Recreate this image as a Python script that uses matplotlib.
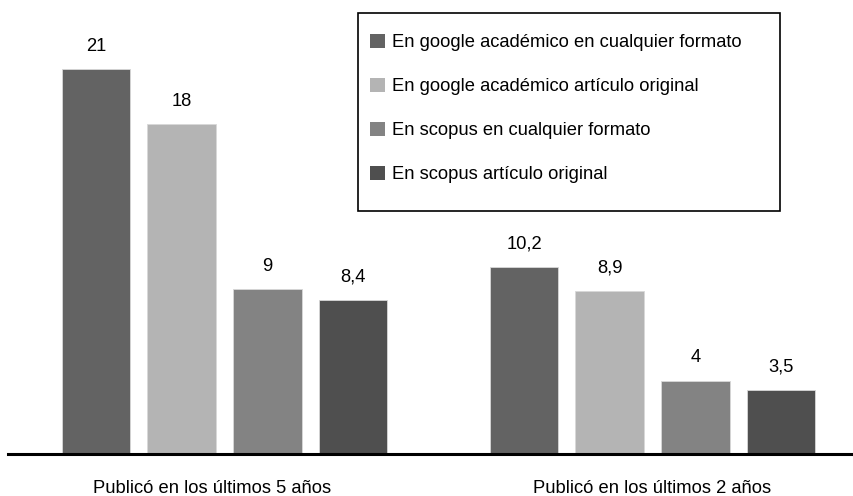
import matplotlib
matplotlib.use("Agg")
import matplotlib.pyplot as plt
import matplotlib.transforms as mtransforms
from matplotlib.patches import Rectangle, Patch
import numpy as np

plt.rcParams['font.family'] = ['Liberation Sans', 'DejaVu Sans']

categories = ["Publicó en los últimos 5 años", "Publicó en los últimos 2 años"]
series_names = [
    "En google académico en cualquier formato",
    "En google académico artículo original",
    "En scopus en cualquier formato",
    "En scopus artículo original",
]
values = [
    [21, 10.2],
    [18, 8.9],
    [9, 4],
    [8.4, 3.5],
]
colors = ["#636363", "#b4b4b4", "#838383", "#4f4f4f"]

W, H = 854, 496
fig = plt.figure(figsize=(W / 100, H / 100), dpi=100)

base_px = 454
ppu = 385 / 21.0
ymax = 24
top_px = base_px - ymax * ppu
ax_left_px = 8
ax_right_px = 854
ax = fig.add_axes([ax_left_px / W, (H - base_px) / H,
                   (ax_right_px - ax_left_px) / W, (base_px - top_px) / H])

FS = 13.2
x = np.arange(len(categories))
step = 0.2
width = 0.16
offsets = [-1.5 * step, -0.5 * step, 0.5 * step, 1.5 * step]
for i, (name, vals) in enumerate(zip(series_names, values)):
    bars = ax.bar(x + offsets[i], vals, width, color=colors[i], label=name,
                  edgecolor="#d8d8d8", linewidth=0.6)
    ax.bar_label(bars, labels=[f"{v:g}".replace(".", ",") for v in vals],
                 padding=10.3, fontsize=FS)

px_per_unit_x = 428.0
c0 = 224.5
ax.set_xlim((ax_left_px - c0) / px_per_unit_x, (ax_right_px - c0) / px_per_unit_x)
ax.set_ylim(0, ymax)
ax.set_xticks(x)
ax.set_xticklabels(categories, fontsize=FS)
ax.tick_params(axis='x', length=0, pad=19)
# first category label sits slightly left of its group in the reference
lbl0 = ax.get_xticklabels()[0]
lbl0.set_transform(lbl0.get_transform() +
                   mtransforms.ScaledTranslation(-12 / 100, 0, fig.dpi_scale_trans))
ax.set_yticks([])
for s in ["top", "right", "left"]:
    ax.spines[s].set_visible(False)
ax.spines["bottom"].set_linewidth(2.2)
ax.spines["bottom"].set_color("black")

# legend box
lx0, ly0, lx1, ly1 = 358, 13, 780, 211
fig.patches.append(Rectangle((lx0 / W, 1 - ly1 / H), (lx1 - lx0) / W, (ly1 - ly0) / H,
                             transform=fig.transFigure, facecolor="white",
                             edgecolor="black", linewidth=1.2, zorder=5))
handles = [Patch(facecolor=c, edgecolor="none") for c in colors]
leg = fig.legend(handles, series_names, loc="upper left",
                 bbox_to_anchor=(370 / W, 1 - 34 / H), frameon=False,
                 fontsize=FS, handlelength=0.82, handleheight=0.82,
                 handletextpad=0.38, labelspacing=1.44, borderpad=0,
                 borderaxespad=0)
leg.set_zorder(6)

fig.savefig("out.png", dpi=100)
